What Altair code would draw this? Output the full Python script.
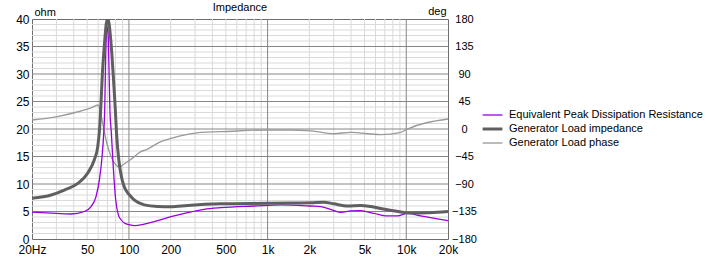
import altair as alt
import pandas as pd

# ---------------- data ----------------
series_names = [
    "Equivalent Peak Dissipation Resistance",
    "Generator Load impedance",
    "Generator Load phase",
]
title_text = ["Impedance"]

freq_z = [20, 27.5, 34.2, 42.8, 50.5, 56.3, 59.6, 61.4, 62.7, 64.2, 66.7, 68.7, 70.4,
          71.9, 74.3, 77.2, 79.8, 81.4, 84.9, 88.5, 92.2, 98, 101, 109, 129, 161, 201,
          265, 461, 1000, 1470, 2050, 2540, 3000, 3770, 4700, 5550, 7320, 9130, 10200,
          12700, 16800, 20000]
imp_z = [7.4, 8.0, 8.9, 10.1, 12.0, 14.4, 16.8, 20.0, 24.0, 29.5, 35.6, 39.2, 40.0,
         39.2, 35.6, 29.5, 23.5, 19.2, 14.0, 11.2, 9.6, 8.4, 8.0, 7.1, 6.2, 5.9, 5.85,
         6.1, 6.4, 6.5, 6.55, 6.6, 6.7, 6.4, 6.0, 6.1, 5.9, 5.3, 4.9, 4.75,
         4.75, 4.85, 5.0]

freq_p = [20, 27.5, 38.3, 47.7, 53.3, 57.9, 61.2, 63.7, 65.8, 66.9, 67.9, 68.9, 69.8,
          70.7, 71.6, 72.9, 74.7, 77.1, 80.3, 83.9, 87.7, 92.7, 98, 109, 129, 152, 201,
          265, 349, 461, 800, 1250, 2050, 2420, 3020, 3370, 3980, 4700, 5860, 7320,
          8640, 10200, 12700, 16800, 20000]
res_p = [4.9, 4.7, 4.55, 5.0, 5.9, 7.7, 10.7, 14.4, 19.2, 23.5, 32.5, 37.5, 38.5,
         37.5, 32.5, 23.5, 19.2, 13.1, 7.1, 4.4, 3.5, 2.9, 2.65, 2.45, 2.7, 3.15, 4.05,
         4.8, 5.4, 5.7, 6.0, 6.2, 6.0, 5.9, 5.15, 4.85, 5.1, 5.15, 4.65, 4.2,
         4.2, 4.65, 4.2, 3.65, 3.35]

freq_ph = [20, 30.5, 42.3, 53.3, 59.9, 64.7, 68.4, 74.3, 80.7, 85.3, 90.2, 103.5, 122,
           133, 170, 201, 265, 331, 461, 1000, 1470, 2050, 3000, 3980, 6550, 9130,
           10100, 20000]
phase = [14.7, 20.3, 27.8, 34.4, 39.3, 9.3, -18, -45, -59, -62.6, -59, -49.6, -37,
         -34, -20.7, -15.3, -8.7, -5.5, -4.4, -1.6, -1.6, -3, -7.7, -5.5, -9.3, -5.4,
         -0.5, 16.4]

x_tick_values = [20, 50, 100, 200, 500, 1000, 2000, 5000, 10000, 20000]
ohm_ticks = [0, 5, 10, 15, 20, 25, 30, 35, 40]
deg_ticks = [-180, -135, -90, -45, 0, 45, 90, 135, 180]
grid_x_major = [100, 1000, 10000]
grid_x_minor = [30, 40, 50, 60, 70, 80, 90, 200, 300, 400, 500, 600, 700, 800, 900,
                2000, 3000, 4000, 5000, 6000, 7000, 8000, 9000]
grid_y_major = [5, 10, 15, 20, 25, 30, 35]
grid_y_minor = [v for v in range(1, 40) if v % 5 != 0]

# ---------------- styling ----------------
FONT = "Liberation Sans"
C_PURPLE, C_IMP, C_PHASE = "#9a00dc", "#5f5f5f", "#9a9a9a"
W, H = 416, 220

# One shared domain for colour and stroke width (so the legends merge).
# Stroke width uses a point scale, so thin series come first and the thick one last.
pad_slots = ["_%d" % i for i in range(40)]
shared_domain = [series_names[0], series_names[2]] + pad_slots + [series_names[1]]
color_range = [C_PURPLE, C_PHASE] + ["#000000"] * len(pad_slots) + [C_IMP]

ohm_df = pd.concat([
    pd.DataFrame({"f": freq_p, "v": res_p, "series": series_names[0], "o": 0}),
    pd.DataFrame({"f": freq_z, "v": imp_z, "series": series_names[1], "o": 1}),
])
ph_df = pd.DataFrame({"f": freq_ph, "v": phase, "series": series_names[2]})

xscale = alt.Scale(type="log", domain=[20, 20000], nice=False)
xaxis = alt.Axis(
    title=None, values=x_tick_values, grid=False, domain=False, ticks=False, tickSize=0,
    labelExpr="datum.value == 20 ? '20Hz' : (datum.value >= 1000 ? (datum.value/1000) + 'k' : datum.value + '')",
    labelFont=FONT, labelFontSize=12, labelColor="#000000", labelPadding=5,
    labelBaseline="top", labelFlush=False, labelOverlap=False,
)
yl_scale = alt.Scale(domain=[0, 40], nice=False)
yr_scale = alt.Scale(domain=[-180, 180], nice=False)

legend = alt.Legend(
    title=None, orient="none", legendX=451.5, legendY=88, symbolType="M-1.4,0H1.4",
    symbolSize=200, labelFont=FONT, labelFontSize=11, labelColor="#000000",
    labelOffset=7.5, rowPadding=0, padding=0, labelLimit=400, values=series_names,
)
color = alt.Color("series:N", scale=alt.Scale(domain=shared_domain, range=color_range), legend=legend)
sw = alt.StrokeWidth("series:N", scale=alt.Scale(type="point", domain=shared_domain, range=[1.3, 3], padding=0),
                     legend=legend)

x_enc = lambda f: alt.X(f, type="quantitative", scale=xscale, axis=xaxis)

# grid
g_xmin = alt.Chart(pd.DataFrame({"f": grid_x_minor})).mark_rule(color="#dadada", strokeWidth=1).encode(x=x_enc("f"))
g_ymin = alt.Chart(pd.DataFrame({"v": grid_y_minor})).mark_rule(color="#dadada", strokeWidth=1).encode(
    y=alt.Y("v:Q", scale=yl_scale, axis=None))
g_xmaj = alt.Chart(pd.DataFrame({"f": grid_x_major})).mark_rule(color="#868686", strokeWidth=1).encode(x=x_enc("f"))
g_ymaj = alt.Chart(pd.DataFrame({"v": grid_y_major})).mark_rule(color="#868686", strokeWidth=1).encode(
    y=alt.Y("v:Q", scale=yl_scale, axis=None))
grid = alt.layer(g_xmin, g_ymin, g_xmaj, g_ymaj)

phase_line = alt.Chart(ph_df).mark_line(interpolate="monotone", clip=True).encode(
    x=x_enc("f"),
    y=alt.Y("v:Q", scale=yr_scale, axis=alt.Axis(
        orient="right", title="deg", values=deg_ticks, grid=False, domain=False, ticks=False, tickSize=0,
        labelFont=FONT, labelFontSize=11, labelColor="#000000", labelAlign="center", labelPadding=16,
        labelBaseline="middle", labelFlush=False, labelOverlap=False,
        titleAngle=0, titleAlign="right", titleBaseline="alphabetic", titleX=-2, titleY=-5,
        titleFont=FONT, titleFontSize=11, titleFontWeight="normal", titleColor="#000000")),
    color=color, strokeWidth=sw,
)

ohm_lines = alt.Chart(ohm_df).mark_line(interpolate="monotone", clip=True).encode(
    x=x_enc("f"),
    y=alt.Y("v:Q", scale=yl_scale, axis=alt.Axis(
        orient="left", title="ohm", values=ohm_ticks, grid=False, domain=False, ticks=False, tickSize=0,
        labelFont=FONT, labelFontSize=12, labelColor="#000000", labelPadding=3,
        labelBaseline="middle", labelFlush=False, labelOverlap=False,
        titleAngle=0, titleAlign="left", titleBaseline="alphabetic", titleX=2, titleY=-4,
        titleFont=FONT, titleFontSize=11, titleFontWeight="normal", titleColor="#000000")),
    color=color, strokeWidth=sw,
    order=alt.Order("o:Q", sort="descending"),
)

title_mark = alt.Chart(pd.DataFrame({"t": title_text})).mark_text(
    font=FONT, fontSize=11, color="#000000", align="center", baseline="alphabetic", clip=False
).encode(text="t:N", x=alt.value(W / 2), y=alt.value(-8))

chart = alt.layer(grid, phase_line, ohm_lines, title_mark).resolve_scale(y="independent").properties(
    width=W, height=H,
    autosize=alt.AutoSizeParams(type="none"),
    padding={"left": 32, "top": 19, "right": 263, "bottom": 18},
    background="#ffffff",
).configure_view(stroke="#6e6e6e", strokeWidth=1)

chart.save("out.html", embed_options={"renderer": "svg", "actions": False})
